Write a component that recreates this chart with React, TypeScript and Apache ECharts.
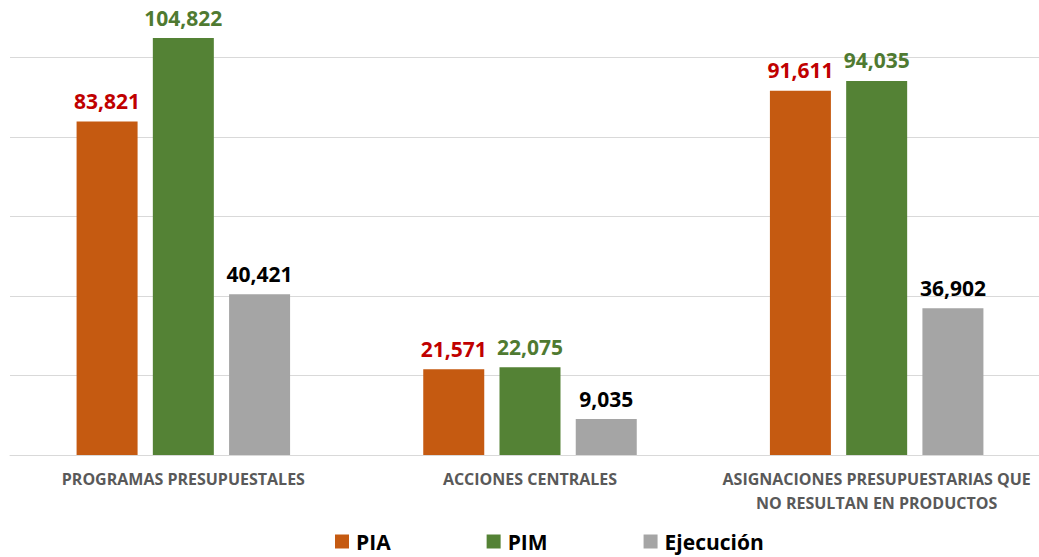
import React, { useEffect, useRef } from "react";
import * as echarts from "echarts";

const categories = [
  "PROGRAMAS PRESUPUESTALES",
  "ACCIONES CENTRALES",
  "ASIGNACIONES PRESUPUESTARIAS QUE\nNO RESULTAN EN PRODUCTOS",
];
const seriesNames = ["PIA", "PIM", "Ejecución"];
const piaValues = [83821, 21571, 91611];
const pimValues = [104822, 22075, 94035];
const ejecValues = [40421, 9035, 36902];

const barColors = ["#C55A11", "#548235", "#A5A5A5"];
const labelColors = ["#C00000", "#4F7A31", "#000000"];

const fmt = (v: number) => v.toLocaleString("en-US");

export default function App() {
  const ref = useRef<HTMLDivElement>(null);
  useEffect(() => {
    if (!ref.current) return;
    const chart = echarts.init(ref.current, null, { renderer: "svg" });
    const data = [piaValues, pimValues, ejecValues];
    chart.setOption({
      animation: false,
      backgroundColor: "#FFFFFF",
      grid: { left: 10, top: 17.5, width: 1040, height: 437.5, containLabel: false },
      legend: {
        bottom: 0,
        left: 330,
        itemWidth: 14,
        itemHeight: 14,
        itemGap: 96,
        icon: "rect",
        textStyle: {
          fontFamily: "Open Sans",
          fontWeight: "bold",
          fontSize: 21,
          color: "#000000",
          padding: [0, 0, 0, 2],
        },
        data: seriesNames,
      },
      xAxis: {
        type: "category",
        data: categories,
        axisLine: { show: true, lineStyle: { color: "#D9D9D9", width: 1 } },
        axisTick: { show: false },
        axisLabel: {
          fontFamily: "Open Sans",
          fontWeight: "bold",
          fontSize: 16,
          color: "#595959",
          margin: 12,
          lineHeight: 24,
          interval: 0,
        },
      },
      yAxis: {
        type: "value",
        min: 0,
        max: 110000,
        interval: 20000,
        axisLabel: { show: false },
        axisLine: { show: false },
        axisTick: { show: false },
        splitLine: {
          show: true,
          showMaxLine: false,
          lineStyle: { color: "#D9D9D9", width: 1 },
        },
      },
      series: seriesNames.map((name, i) => ({
        name,
        type: "bar",
        data: data[i],
        barWidth: 61,
        barGap: "25%",
        itemStyle: { color: barColors[i] },
        label: {
          show: true,
          position: "top",
          distance: 10,
          formatter: (p: any) => fmt(p.value),
          fontFamily: "Open Sans",
          fontWeight: "bold",
          fontSize: 21,
          color: labelColors[i],
        },
      })),
    });
    return () => chart.dispose();
  }, []);
  return (
    <div
      style={{
        position: "fixed",
        left: 0,
        top: 0,
        width: 1039,
        height: 557,
        overflow: "hidden",
      }}
    >
      <div ref={ref} style={{ width: 1060, height: 557 }} />
    </div>
  );
}
